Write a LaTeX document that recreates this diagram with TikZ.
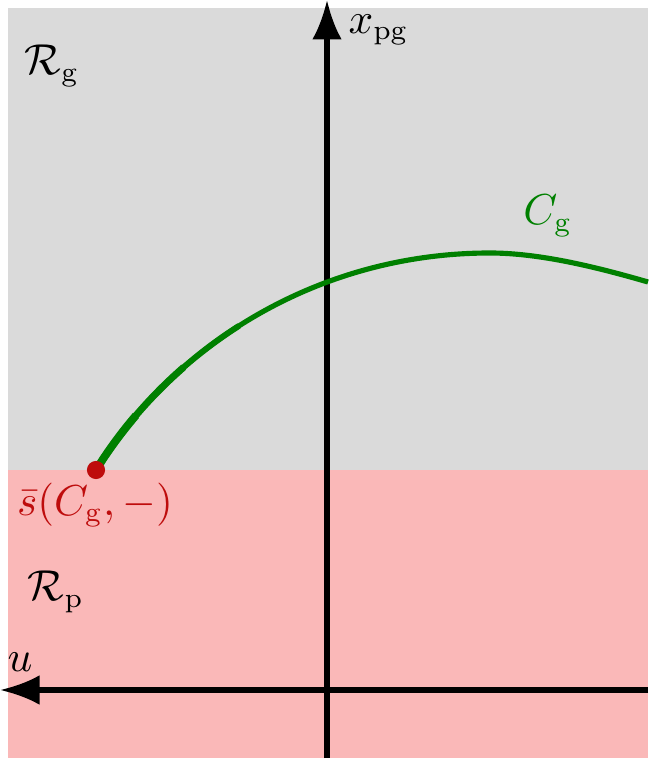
\documentclass[tikz,border=0pt]{standalone}
\usepackage{amsmath}
\usetikzlibrary{arrows.meta}

\definecolor{regg}{RGB}{218,218,218}
\definecolor{regp}{RGB}{250,184,184}
\definecolor{ptred}{RGB}{190,12,12}
\definecolor{cgreen}{RGB}{0,128,0}
\newcommand{\rg}[1]{\mathrm{#1}}

\begin{document}
\begin{tikzpicture}[x=0.0089cm, y=-0.0089cm, line width=1.3pt,
    axis/.style={-{Latex[length=10pt, width=7.5pt]}},
    lbl/.style={inner sep=0pt, font=\fontsize{10.7}{13}\selectfont}]
  \useasboundingbox (0,0) rectangle (653,778);
  % regions
  \fill[regg] (8,8) rectangle (648,470);
  \fill[regp] (8,470) rectangle (648,758);
  % axes
  \coordinate (vbot) at (327,758);
  \coordinate (vtop) at (327,0);
  \coordinate (hright) at (648,690);
  \coordinate (hleft) at (0,690);
  \draw[axis] (vbot) -- (vtop);
  \draw[axis] (hright) -- (hleft);
  % curve (thicker towards the start point)
  \coordinate (s) at (96,470);
  \coordinate (top) at (490,253);
  \coordinate (e) at (648,282);
  \draw[cgreen] (s) .. controls (175,343) and (320,253) .. (top)
    .. controls (540,253) and (598,267.5) .. (e);
  \draw[cgreen, line width=1.5pt] (s) .. controls (131.55,412.85) and (180.47,363.19) .. (239.01,325.85);
  \draw[cgreen, line width=1.75pt] (s) .. controls (119.7,431.9) and (149.34,397.13) .. (183.81,367.12);
  \draw[cgreen, line width=2pt] (s) .. controls (107.85,450.95) and (121.19,432.73) .. (135.87,415.52);
  \fill[ptred] (s) circle (2.3pt);
  % labels
  \node[lbl] (Rg) at (52,66) {$\mathcal{R}_\rg{g}$};
  \node[lbl] (Rp) at (56,592) {$\mathcal{R}_\rg{p}$};
  \node[lbl, anchor=west] (xpg) at (346,30) {$x_\rg{pg}$};
  \node[lbl] (ulbl) at (20,662) {$u$};
  \node[lbl, text=cgreen] (Cg) at (548,216) {$C_\rg{g}$};
  \node[lbl, text=ptred] (sbar) at (95,505) {$\bar{s}(C_\rg{g},-)$};
\end{tikzpicture}
\end{document}
